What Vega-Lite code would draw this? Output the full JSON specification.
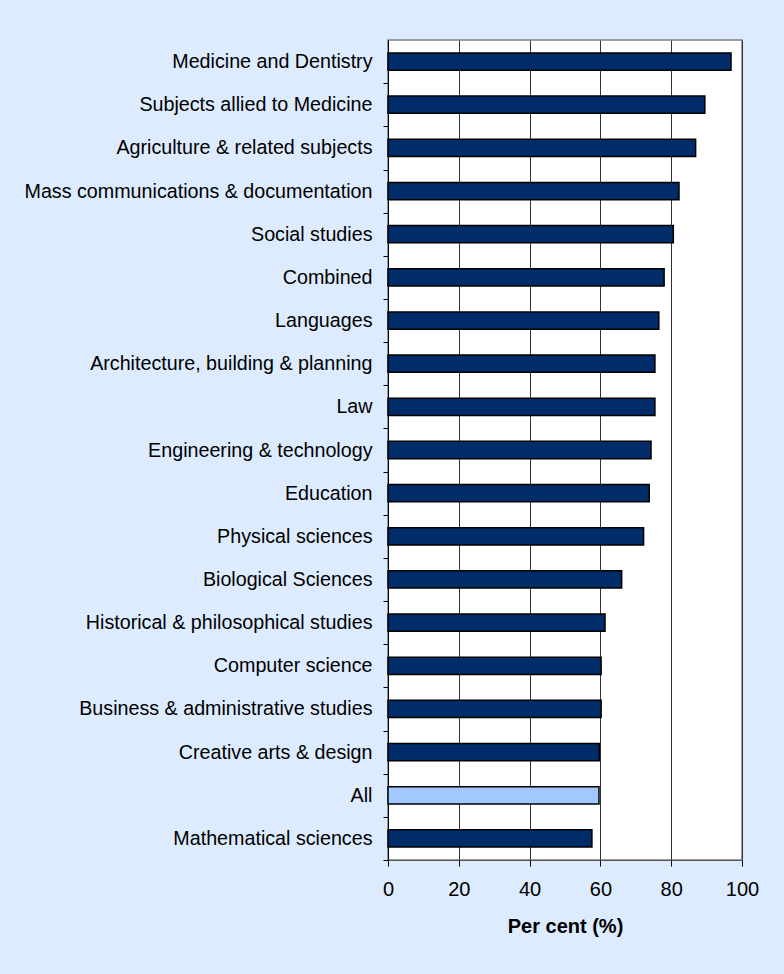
{
  "$schema": "https://vega.github.io/schema/vega-lite/v6.json",
  "autosize": "none",
  "width": 354,
  "height": 820,
  "padding": {"left": 388, "top": 40, "right": 42, "bottom": 114},
  "background": "#DDEBFF",
  "config": {
    "view": {"fill": "white", "stroke": "#808080", "strokeWidth": 1.5},
    "font": "Liberation Sans"
  },
  "data": {
    "values": [
      {"subject": "Medicine and Dentistry", "pct": 96.9, "group": "Subject"},
      {"subject": "Subjects allied to Medicine", "pct": 89.5, "group": "Subject"},
      {"subject": "Agriculture & related subjects", "pct": 86.9, "group": "Subject"},
      {"subject": "Mass communications & documentation", "pct": 82.2, "group": "Subject"},
      {"subject": "Social studies", "pct": 80.6, "group": "Subject"},
      {"subject": "Combined", "pct": 78.0, "group": "Subject"},
      {"subject": "Languages", "pct": 76.5, "group": "Subject"},
      {"subject": "Architecture, building & planning", "pct": 75.4, "group": "Subject"},
      {"subject": "Law ", "pct": 75.4, "group": "Subject"},
      {"subject": "Engineering & technology", "pct": 74.3, "group": "Subject"},
      {"subject": "Education", "pct": 73.8, "group": "Subject"},
      {"subject": "Physical sciences", "pct": 72.2, "group": "Subject"},
      {"subject": "Biological Sciences", "pct": 66.0, "group": "Subject"},
      {"subject": "Historical & philosophical studies", "pct": 61.3, "group": "Subject"},
      {"subject": "Computer science", "pct": 60.2, "group": "Subject"},
      {"subject": "Business & administrative studies", "pct": 60.2, "group": "Subject"},
      {"subject": "Creative arts & design", "pct": 59.7, "group": "Subject"},
      {"subject": "All", "pct": 59.6, "group": "All"},
      {"subject": "Mathematical sciences", "pct": 57.6, "group": "Subject"}
    ]
  },
  "mark": {"type": "bar", "stroke": "black", "strokeWidth": 1.5},
  "encoding": {
    "y": {
      "field": "subject",
      "type": "nominal",
      "sort": null,
      "scale": {"paddingInner": 0.6, "paddingOuter": 0.3},
      "axis": {
        "title": null,
        "bandPosition": 1,
        "tickExtra": false,
        "tickOffset": 13,
        "labelOffset": -13,
        "tickSize": 5,
        "tickColor": "black",
        "domainColor": "black",
        "labelPadding": 11,
        "labelFontSize": 19.7,
        "labelColor": "black",
        "labelLimit": 400,
        "grid": false
      }
    },
    "x": {
      "field": "pct",
      "type": "quantitative",
      "scale": {"domain": [0, 100], "nice": false},
      "axis": {
        "title": "Per cent (%)",
        "titleFontSize": 20,
        "titleFontWeight": "bold",
        "titleColor": "black",
        "titlePadding": 17,
        "values": [0, 20, 40, 60, 80, 100],
        "labelFlush": false,
        "tickSize": 6,
        "tickColor": "black",
        "domainColor": "#555555",
        "labelFontSize": 20,
        "labelColor": "black",
        "labelPadding": 13,
        "grid": true,
        "gridColor": "#333333",
        "gridOpacity": 1,
        "gridWidth": 1
      }
    },
    "color": {
      "field": "group",
      "type": "nominal",
      "scale": {"domain": ["Subject", "All"], "range": ["#002C69", "#A2C8FF"]},
      "legend": null
    }
  }
}
